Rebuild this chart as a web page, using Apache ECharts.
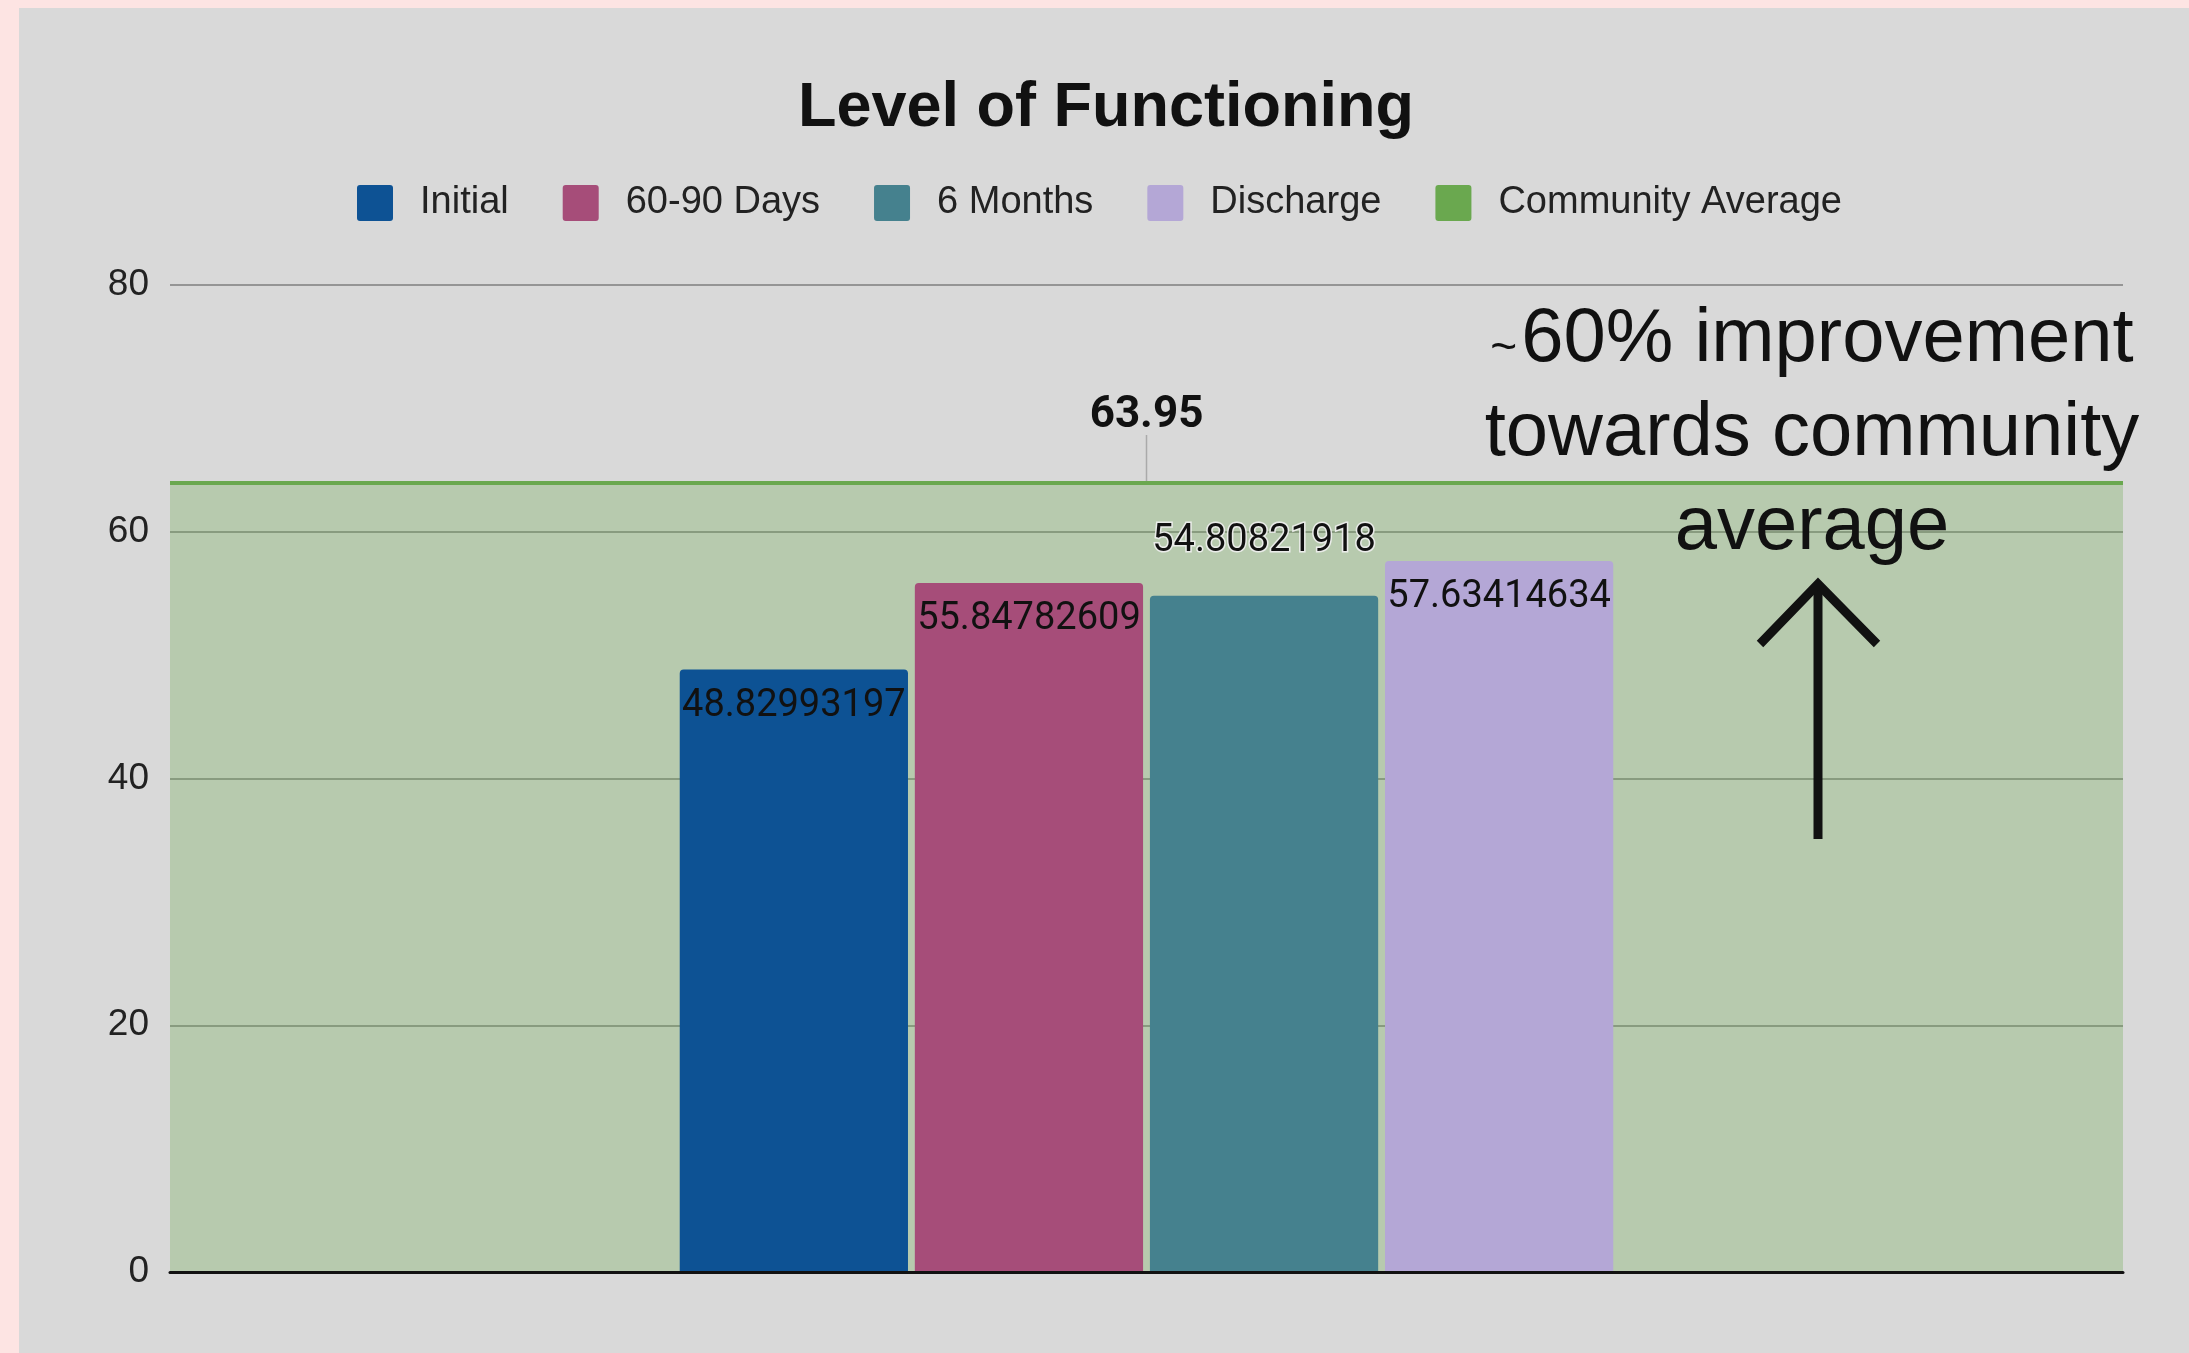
<!DOCTYPE html>
<html>
<head>
<meta charset="utf-8">
<title>Level of Functioning</title>
<script src="https://cdn.jsdelivr.net/npm/echarts@6/dist/echarts.min.js"></script>
<style>
  html, body { margin: 0; padding: 0; width: 100%; height: 100%; background: #fde4e3; overflow: hidden; }
  #chart { position: absolute; left: 19px; top: 8px; width: 2170px; height: 1345px; background: #d9d9d9; }
</style>
</head>
<body>
<div id="chart"></div>
<script>
// Chart data
const categories = [''];
const seriesNames = ['Initial', '60-90 Days', '6 Months', 'Discharge'];
const seriesValues = [48.82993197, 55.84782609, 54.80821918, 57.63414634];
const communityAverage = 63.95;
const yTicks = [0, 20, 40, 60, 80];
const annotationLines = ['{t|~}60% improvement', 'towards community', 'average'];

// Styling
const barColors = ['#0d5294', '#a64d79', '#45818e', '#b4a7d6'];
const communityColor = '#6aa84f';
const labelPlacement = ['insideTop', 'insideTop', 'top', 'insideTop'];
const labelDistance = [18, 18, 35, 18];
const squareIcon = 'path://M3,0 L33,0 Q36,0 36,3 L36,33 Q36,36 33,36 L3,36 Q0,36 0,33 L0,3 Q0,0 3,0 Z';

const chart = echarts.init(document.getElementById('chart'), null, { renderer: 'canvas' });

const barSeries = seriesNames.map((name, i) => ({
  name: name,
  type: 'bar',
  xAxisIndex: 0,
  yAxisIndex: 0,
  z: 5,
  barCategoryGap: '52.2%',
  barGap: '3%',
  itemStyle: { color: barColors[i], borderRadius: [4, 4, 0, 0] },
  label: {
    show: true,
    position: labelPlacement[i],
    distance: labelDistance[i],
    color: '#111',
    fontFamily: 'Roboto',
    fontSize: 38,
    textBorderColor: i === 2 ? 'rgba(240,240,240,0.9)' : 'transparent',
    textBorderWidth: i === 2 ? 3 : 0,
    formatter: p => String(p.value)
  },
  data: [seriesValues[i]]
}));

const option = {
  animation: false,
  backgroundColor: '#d9d9d9',
  title: {
    text: 'Level of Functioning',
    left: 1087,
    textAlign: 'center',
    top: 69,
    padding: 0,
    textStyle: { fontFamily: 'Liberation Sans', fontWeight: 'bold', fontSize: 63, color: '#111' }
  },
  legend: {
    data: seriesNames.concat(['Community Average']).map(n => ({ name: n, icon: squareIcon })),
    left: 338,
    top: 176,
    padding: 0,
    itemWidth: 36,
    itemHeight: 36,
    itemGap: 54,
    textStyle: { fontFamily: 'Liberation Sans', fontSize: 38, color: '#222', padding: [0, 0, 0, 22] }
  },
  grid: { left: 151, right: 66, top: 277, bottom: 81, containLabel: false },
  xAxis: [
    {
      type: 'category',
      data: categories,
      axisLine: { show: true, lineStyle: { color: '#111', width: 3 } },
      axisTick: { show: false },
      axisLabel: { show: false },
      splitLine: { show: false },
      z: 10
    },
    {
      type: 'value',
      min: 0,
      max: 1,
      show: false
    }
  ],
  yAxis: {
    type: 'value',
    min: yTicks[0],
    max: yTicks[yTicks.length - 1],
    interval: yTicks[1] - yTicks[0],
    axisLine: { show: false },
    axisTick: { show: false },
    axisLabel: { fontFamily: 'Liberation Sans', fontSize: 37, color: '#222', margin: 21 },
    splitLine: { show: true, lineStyle: { color: '#959595', width: 2 } }
  },
  series: [
    {
      name: 'Community Average',
      type: 'line',
      xAxisIndex: 1,
      yAxisIndex: 0,
      z: 2,
      symbol: 'none',
      lineStyle: { color: communityColor, width: 4 },
      itemStyle: { color: communityColor },
      areaStyle: { color: communityColor, opacity: 0.31 },
      data: [[0, communityAverage], [1, communityAverage]]
    },
    {
      // value callout above the community average line
      name: 'Community Average Label',
      type: 'custom',
      xAxisIndex: 1,
      yAxisIndex: 0,
      z: 6,
      silent: true,
      renderItem: function (params, api) {
        const pt = api.coord([api.value(0), api.value(1)]);
        return {
          type: 'group',
          children: [
            {
              type: 'line',
              shape: { x1: pt[0], y1: pt[1] - 2, x2: pt[0], y2: pt[1] - 48 },
              style: { stroke: '#aaaaaa', lineWidth: 1.5 }
            },
            {
              type: 'text',
              x: pt[0],
              y: pt[1] - 67,
              style: {
                text: api.value(1).toFixed(2),
                align: 'center',
                verticalAlign: 'middle',
                fontFamily: 'Roboto',
                fontWeight: 'bold',
                fontSize: 44,
                fill: '#111'
              }
            }
          ]
        };
      },
      data: [[0.5, communityAverage]]
    }
  ].concat(barSeries),
  graphic: [
    {
      type: 'text',
      z: 20,
      x: 1793,
      y: 285,
      style: {
        text: annotationLines.join('\n'),
        align: 'center',
        verticalAlign: 'top',
        fontFamily: 'Liberation Sans',
        fontSize: 76,
        lineHeight: 94,
        fill: '#111',
        rich: {
          t: { fontFamily: 'Liberation Sans', fontSize: 46, lineHeight: 94, fill: '#111', padding: [18, 4, 0, 0] }
        }
      }
    },
    {
      type: 'line',
      z: 20,
      shape: { x1: 1799, y1: 578, x2: 1799, y2: 831 },
      style: { stroke: '#111', lineWidth: 9 }
    },
    {
      type: 'polyline',
      z: 20,
      shape: { points: [[1741, 636], [1799, 576], [1858, 636]] },
      style: { stroke: '#111', lineWidth: 9, fill: null, lineJoin: 'miter' }
    }
  ]
};

chart.setOption(option);
</script>
</body>
</html>
